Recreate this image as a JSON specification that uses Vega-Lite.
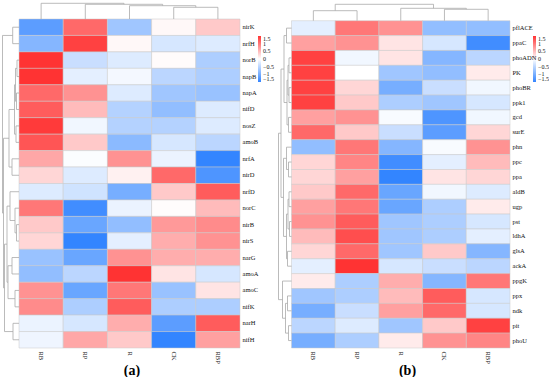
{
  "$schema": "https://vega.github.io/schema/vega-lite/v6.json",
  "padding": {"left": 2, "top": 2, "right": 0, "bottom": 0},
  "bounds": "flush",
  "spacing": 37,
  "config": {
    "view": {"stroke": null},
    "font": "Liberation Serif",
    "axis": {"ticks": false, "domain": false, "grid": false, "labelFont": "Liberation Serif", "labelFontSize": 6.5, "labelColor": "#111111", "title": null},
    "legend": {"labelFont": "Liberation Serif", "labelFontSize": 6, "labelColor": "#111111"}
  },
  "datasets": {
    "heatA": [
      {"gene": "nirK", "RB": -1.2, "RP": 1.1, "R": -0.7, "CK": 0.05, "RBP": 0.4},
      {"gene": "nrfH", "RB": -0.9, "RP": 1.4, "R": 0.05, "CK": -0.3, "RBP": -0.25},
      {"gene": "norB", "RB": 1.5, "RP": -0.4, "R": -0.25, "CK": 0.03, "RBP": -0.6},
      {"gene": "napB", "RB": 1.5, "RP": -0.2, "R": -0.08, "CK": -0.5, "RBP": -0.6},
      {"gene": "napA", "RB": 1.1, "RP": 0.8, "R": -0.25, "CK": -0.7, "RBP": -0.75},
      {"gene": "nifD", "RB": 1.2, "RP": 0.5, "R": -0.55, "CK": -0.8, "RBP": -0.25},
      {"gene": "nosZ", "RB": 1.45, "RP": -0.1, "R": -0.55, "CK": -0.55, "RBP": -0.25},
      {"gene": "amoB", "RB": 1.25, "RP": 0.4, "R": -0.85, "CK": -0.3, "RBP": -0.5},
      {"gene": "nrfA", "RB": 0.65, "RP": -0.03, "R": 0.8, "CK": -0.15, "RBP": -1.5},
      {"gene": "nirD", "RB": 0.3, "RP": -0.25, "R": 0.1, "CK": 1.1, "RBP": -1.3},
      {"gene": "nrfD", "RB": -0.25, "RP": -0.35, "R": -1.0, "CK": 0.4, "RBP": 1.2},
      {"gene": "norC", "RB": 1.0, "RP": -1.4, "R": -0.15, "CK": 0.02, "RBP": 0.5},
      {"gene": "nirB", "RB": 0.4, "RP": -1.1, "R": -0.8, "CK": 0.75, "RBP": 0.85},
      {"gene": "nirS", "RB": 0.3, "RP": -1.5, "R": -0.2, "CK": 0.6, "RBP": 0.8},
      {"gene": "narG", "RB": -0.75, "RP": -1.1, "R": 0.8, "CK": 0.6, "RBP": 0.6},
      {"gene": "amoA", "RB": -0.8, "RP": -0.5, "R": 1.5, "CK": 0.2, "RBP": -0.3},
      {"gene": "amoC", "RB": 0.8, "RP": -1.1, "R": 1.0, "CK": -0.75, "RBP": 0.2},
      {"gene": "nifK", "RB": 0.85, "RP": -0.6, "R": 1.2, "CK": -0.6, "RBP": -0.6},
      {"gene": "narH", "RB": -0.15, "RP": -0.3, "R": 0.6, "CK": -1.2, "RBP": 1.2},
      {"gene": "nifH", "RB": -0.12, "RP": 0.65, "R": 0.4, "CK": -1.5, "RBP": 0.7}
    ],
    "heatB": [
      {"gene": "pflACE", "RB": -0.2, "RP": 1.0, "R": 0.8, "CK": -0.8, "RBP": -0.8},
      {"gene": "ppaC", "RB": 0.7, "RP": 0.8, "R": 0.2, "CK": -0.3, "RBP": -1.4},
      {"gene": "phoADN", "RB": 1.4, "RP": -0.1, "R": 0.2, "CK": -0.9, "RBP": -0.5},
      {"gene": "PK", "RB": 1.4, "RP": 0.0, "R": -0.7, "CK": -0.8, "RBP": 0.15},
      {"gene": "phoBR", "RB": 1.4, "RP": 0.3, "R": -1.0, "CK": -0.4, "RBP": -0.1},
      {"gene": "ppk1", "RB": 1.4, "RP": 0.4, "R": -0.6, "CK": -0.7, "RBP": -0.3},
      {"gene": "gcd", "RB": 0.7, "RP": 0.8, "R": -0.05, "CK": -1.3, "RBP": -0.1},
      {"gene": "surE", "RB": 1.1, "RP": 0.4, "R": -0.4, "CK": -1.2, "RBP": 0.3},
      {"gene": "phn", "RB": -0.8, "RP": 1.0, "R": -0.9, "CK": -0.05, "RBP": 0.8},
      {"gene": "ppc", "RB": 0.3, "RP": 0.9, "R": -1.4, "CK": -0.2, "RBP": 0.5},
      {"gene": "ppa", "RB": 0.3, "RP": 0.7, "R": -1.5, "CK": 0.2, "RBP": 0.3},
      {"gene": "aldB", "RB": 0.4, "RP": 1.1, "R": -1.1, "CK": -0.1, "RBP": -0.25},
      {"gene": "ugp", "RB": 0.7, "RP": 1.0, "R": -1.1, "CK": -0.6, "RBP": 0.15},
      {"gene": "pst", "RB": 0.8, "RP": 1.2, "R": -0.7, "CK": -0.6, "RBP": -0.3},
      {"gene": "ldhA", "RB": 0.5, "RP": 1.3, "R": -0.7, "CK": -0.6, "RBP": -0.2},
      {"gene": "glsA", "RB": 0.3, "RP": 1.1, "R": -0.7, "CK": 0.4, "RBP": -0.9},
      {"gene": "ackA", "RB": -0.2, "RP": 1.5, "R": -0.3, "CK": -0.4, "RBP": -0.5},
      {"gene": "ppgK", "RB": 0.15, "RP": -0.6, "R": 0.6, "CK": -0.9, "RBP": 1.0},
      {"gene": "ppx", "RB": -0.7, "RP": -0.6, "R": 0.5, "CK": 1.2, "RBP": -0.3},
      {"gene": "ndk", "RB": -1.0, "RP": -0.4, "R": 0.7, "CK": 1.1, "RBP": -0.3},
      {"gene": "pit", "RB": -0.5, "RP": -0.25, "R": -0.7, "CK": 0.4, "RBP": 1.4},
      {"gene": "phoU", "RB": -1.0, "RP": -0.6, "R": 0.15, "CK": 0.8, "RBP": 0.9}
    ],
    "colA": [
      {"l": 3.5, "r": 4.5, "lh": 0, "rh": 0, "h": 11.7},
      {"l": 2.5, "r": 4.0, "lh": 0, "rh": 11.7, "h": 13.3},
      {"l": 1.5, "r": 3.25, "lh": 0, "rh": 13.3, "h": 14.7},
      {"l": 0.5, "r": 2.375, "lh": 0, "rh": 14.7, "h": 15.7}
    ],
    "colB": [
      {"l": 3.5, "r": 4.5, "lh": 0, "rh": 0, "h": 11.4},
      {"l": 2.5, "r": 4.0, "lh": 0, "rh": 11.4, "h": 12.4},
      {"l": 0.5, "r": 1.5, "lh": 0, "rh": 0, "h": 10},
      {"l": 1.0, "r": 3.25, "lh": 10, "rh": 12.4, "h": 16.4}
    ],
    "rowA": [
      {"l": 0.5, "r": 1.5, "lh": 0, "rh": 0, "h": 6.3},
      {"l": 2.5, "r": 3.5, "lh": 0, "rh": 0, "h": 2},
      {"l": 4.5, "r": 5.5, "lh": 0, "rh": 0, "h": 2.5},
      {"l": 3.0, "r": 5.0, "lh": 2, "rh": 2.5, "h": 3.5},
      {"l": 6.5, "r": 7.5, "lh": 0, "rh": 0, "h": 3},
      {"l": 4.0, "r": 7.0, "lh": 3.5, "rh": 3, "h": 4.5},
      {"l": 8.5, "r": 9.5, "lh": 0, "rh": 0, "h": 7},
      {"l": 5.5, "r": 9.0, "lh": 4.5, "rh": 7, "h": 10},
      {"l": 12.5, "r": 13.5, "lh": 0, "rh": 0, "h": 2.5},
      {"l": 11.5, "r": 13.0, "lh": 0, "rh": 2.5, "h": 4},
      {"l": 10.5, "r": 12.25, "lh": 0, "rh": 4, "h": 9},
      {"l": 14.5, "r": 15.5, "lh": 0, "rh": 0, "h": 7},
      {"l": 16.5, "r": 17.5, "lh": 0, "rh": 0, "h": 4},
      {"l": 15.0, "r": 17.0, "lh": 7, "rh": 4, "h": 11},
      {"l": 11.375, "r": 16.0, "lh": 9, "rh": 11, "h": 12},
      {"l": 18.5, "r": 19.5, "lh": 0, "rh": 0, "h": 6},
      {"l": 13.6875, "r": 19.0, "lh": 12, "rh": 6, "h": 14.5},
      {"l": 7.25, "r": 16.34375, "lh": 10, "rh": 14.5, "h": 15.5},
      {"l": 1.0, "r": 11.796875, "lh": 6.3, "rh": 15.5, "h": 16.5}
    ],
    "rowB": [
      {"l": 0.5, "r": 1.5, "lh": 0, "rh": 0, "h": 5},
      {"l": 2.5, "r": 3.5, "lh": 0, "rh": 0, "h": 2.5},
      {"l": 4.5, "r": 5.5, "lh": 0, "rh": 0, "h": 2.5},
      {"l": 3.0, "r": 5.0, "lh": 2.5, "rh": 2.5, "h": 3.5},
      {"l": 6.5, "r": 7.5, "lh": 0, "rh": 0, "h": 3},
      {"l": 4.0, "r": 7.0, "lh": 3.5, "rh": 3, "h": 4.5},
      {"l": 1.0, "r": 5.5, "lh": 5, "rh": 4.5, "h": 7.5},
      {"l": 9.5, "r": 10.5, "lh": 0, "rh": 0, "h": 3},
      {"l": 8.5, "r": 10.0, "lh": 0, "rh": 3, "h": 5},
      {"l": 11.5, "r": 12.5, "lh": 0, "rh": 0, "h": 2.5},
      {"l": 13.5, "r": 14.5, "lh": 0, "rh": 0, "h": 2},
      {"l": 12.0, "r": 14.0, "lh": 2.5, "rh": 2, "h": 3.5},
      {"l": 15.5, "r": 16.5, "lh": 0, "rh": 0, "h": 4},
      {"l": 13.0, "r": 16.0, "lh": 3.5, "rh": 4, "h": 5},
      {"l": 9.25, "r": 14.5, "lh": 5, "rh": 5, "h": 8},
      {"l": 3.25, "r": 11.875, "lh": 7.5, "rh": 8, "h": 10.5},
      {"l": 18.5, "r": 19.5, "lh": 0, "rh": 0, "h": 4},
      {"l": 20.5, "r": 21.5, "lh": 0, "rh": 0, "h": 3},
      {"l": 19.0, "r": 21.0, "lh": 4, "rh": 3, "h": 6},
      {"l": 17.5, "r": 20.0, "lh": 0, "rh": 6, "h": 9},
      {"l": 7.5625, "r": 18.75, "lh": 10.5, "rh": 9, "h": 13}
    ]
  },
  "resolve": {"scale": {"color": "independent"}, "legend": {"color": "independent"}},
  "hconcat": [
    {
      "width": 238,
      "height": 346,
      "title": {"text": "(a)", "orient": "bottom", "anchor": "middle", "font": "Liberation Serif", "fontSize": 14, "fontWeight": "bold", "offset": 1, "dx": 11, "color": "#000000"},
      "resolve": {"scale": {"x": "independent", "y": "independent"}},
      "layer": [
        {
          "data": {"name": "heatA"},
          "transform": [{"fold": ["RB", "RP", "R", "CK", "RBP"], "as": ["group", "v"]}],
          "mark": {"type": "rect", "stroke": "#c8c8c8", "strokeWidth": 0.5},
          "encoding": {
            "x": {"field": "group", "type": "nominal", "sort": ["RB", "RP", "R", "CK", "RBP"], "scale": {"paddingInner": 0, "paddingOuter": 0.1925, "align": 1}, "axis": {"orient": "bottom", "labelAngle": 90, "labelPadding": 3}},
            "y": {"field": "gene", "type": "nominal", "sort": null, "scale": {"paddingInner": 0, "paddingOuter": 0.5165, "align": 1}, "axis": {"orient": "right", "labelPadding": 2}},
            "color": {"field": "v", "type": "quantitative", "scale": {"type": "linear", "domain": [-1.5, 0, 1.5], "range": ["#3385ff", "#ffffff", "#ff3333"], "interpolate": "rgb", "nice": false, "zero": false, "clamp": true},
              "legend": {"title": null, "orient": "none", "legendX": 256, "legendY": 34, "direction": "vertical", "gradientLength": 46, "gradientThickness": 3, "gradientStrokeWidth": 0, "values": [-1.5, -1, -0.5, 0, 0.5, 1, 1.5], "format": ".1~f", "labelOverlap": false, "labelOffset": 2}}
          }
        },
        {
          "data": {"name": "colA"},
          "layer": [
            {"mark": {"type": "rule", "color": "#aaaaaa", "strokeWidth": 0.8},
             "encoding": {"x": {"field": "l", "type": "quantitative", "scale": {"domain": [-0.385, 5], "nice": false, "zero": false}, "axis": null},
                          "y": {"field": "lh", "type": "quantitative", "scale": {"domain": [-329, 17], "nice": false, "zero": false}, "axis": null},
                          "y2": {"field": "h"}}},
            {"mark": {"type": "rule", "color": "#aaaaaa", "strokeWidth": 0.8},
             "encoding": {"x": {"field": "r", "type": "quantitative", "scale": {"domain": [-0.385, 5], "nice": false, "zero": false}, "axis": null},
                          "y": {"field": "rh", "type": "quantitative", "scale": {"domain": [-329, 17], "nice": false, "zero": false}, "axis": null},
                          "y2": {"field": "h"}}},
            {"mark": {"type": "rule", "color": "#aaaaaa", "strokeWidth": 0.8},
             "encoding": {"x": {"field": "l", "type": "quantitative", "scale": {"domain": [-0.385, 5], "nice": false, "zero": false}, "axis": null},
                          "x2": {"field": "r"},
                          "y": {"field": "h", "type": "quantitative", "scale": {"domain": [-329, 17], "nice": false, "zero": false}, "axis": null}}}
          ]
        },
        {
          "data": {"name": "rowA"},
          "layer": [
            {"mark": {"type": "rule", "color": "#aaaaaa", "strokeWidth": 0.8},
             "encoding": {"y": {"field": "l", "type": "quantitative", "scale": {"domain": [-1.033, 20], "reverse": true, "nice": false, "zero": false}, "axis": null},
                          "x": {"field": "lh", "type": "quantitative", "scale": {"domain": [-221, 17], "reverse": true, "nice": false, "zero": false}, "axis": null},
                          "x2": {"field": "h"}}},
            {"mark": {"type": "rule", "color": "#aaaaaa", "strokeWidth": 0.8},
             "encoding": {"y": {"field": "r", "type": "quantitative", "scale": {"domain": [-1.033, 20], "reverse": true, "nice": false, "zero": false}, "axis": null},
                          "x": {"field": "rh", "type": "quantitative", "scale": {"domain": [-221, 17], "reverse": true, "nice": false, "zero": false}, "axis": null},
                          "x2": {"field": "h"}}},
            {"mark": {"type": "rule", "color": "#aaaaaa", "strokeWidth": 0.8},
             "encoding": {"y": {"field": "l", "type": "quantitative", "scale": {"domain": [-1.033, 20], "reverse": true, "nice": false, "zero": false}, "axis": null},
                          "y2": {"field": "r"},
                          "x": {"field": "h", "type": "quantitative", "scale": {"domain": [-221, 17], "reverse": true, "nice": false, "zero": false}, "axis": null}}}
          ]
        }
      ]
    },
    {
      "width": 233,
      "height": 346,
      "title": {"text": "(b)", "orient": "bottom", "anchor": "middle", "font": "Liberation Serif", "fontSize": 14, "fontWeight": "bold", "offset": 1, "dx": 14, "color": "#000000"},
      "resolve": {"scale": {"x": "independent", "y": "independent"}},
      "layer": [
        {
          "data": {"name": "heatB"},
          "transform": [{"fold": ["RB", "RP", "R", "CK", "RBP"], "as": ["group", "v"]}],
          "mark": {"type": "rect", "stroke": "#c8c8c8", "strokeWidth": 0.5},
          "encoding": {
            "x": {"field": "group", "type": "nominal", "sort": ["RB", "RP", "R", "CK", "RBP"], "scale": {"paddingInner": 0, "paddingOuter": 0.166, "align": 1}, "axis": {"orient": "bottom", "labelAngle": 90, "labelPadding": 3}},
            "y": {"field": "gene", "type": "nominal", "sort": null, "scale": {"paddingInner": 0, "paddingOuter": 0.6285, "align": 1}, "axis": {"orient": "right", "labelPadding": 2}},
            "color": {"field": "v", "type": "quantitative", "scale": {"type": "linear", "domain": [-1.5, 0, 1.5], "range": ["#3385ff", "#ffffff", "#ff3333"], "interpolate": "rgb", "nice": false, "zero": false, "clamp": true},
              "legend": {"title": null, "orient": "none", "legendX": 256, "legendY": 34, "direction": "vertical", "gradientLength": 46, "gradientThickness": 3, "gradientStrokeWidth": 0, "values": [-1.5, -1, -0.5, 0, 0.5, 1, 1.5], "format": ".1~f", "labelOverlap": false, "labelOffset": 2}}
          }
        },
        {
          "data": {"name": "colB"},
          "layer": [
            {"mark": {"type": "rule", "color": "#aaaaaa", "strokeWidth": 0.8},
             "encoding": {"x": {"field": "l", "type": "quantitative", "scale": {"domain": [-0.332, 5], "nice": false, "zero": false}, "axis": null},
                          "y": {"field": "lh", "type": "quantitative", "scale": {"domain": [-327.3, 18.7], "nice": false, "zero": false}, "axis": null},
                          "y2": {"field": "h"}}},
            {"mark": {"type": "rule", "color": "#aaaaaa", "strokeWidth": 0.8},
             "encoding": {"x": {"field": "r", "type": "quantitative", "scale": {"domain": [-0.332, 5], "nice": false, "zero": false}, "axis": null},
                          "y": {"field": "rh", "type": "quantitative", "scale": {"domain": [-327.3, 18.7], "nice": false, "zero": false}, "axis": null},
                          "y2": {"field": "h"}}},
            {"mark": {"type": "rule", "color": "#aaaaaa", "strokeWidth": 0.8},
             "encoding": {"x": {"field": "l", "type": "quantitative", "scale": {"domain": [-0.332, 5], "nice": false, "zero": false}, "axis": null},
                          "x2": {"field": "r"},
                          "y": {"field": "h", "type": "quantitative", "scale": {"domain": [-327.3, 18.7], "nice": false, "zero": false}, "axis": null}}}
          ]
        },
        {
          "data": {"name": "rowB"},
          "layer": [
            {"mark": {"type": "rule", "color": "#aaaaaa", "strokeWidth": 0.8},
             "encoding": {"y": {"field": "l", "type": "quantitative", "scale": {"domain": [-1.257, 22], "reverse": true, "nice": false, "zero": false}, "axis": null},
                          "x": {"field": "lh", "type": "quantitative", "scale": {"domain": [-218.5, 14.5], "reverse": true, "nice": false, "zero": false}, "axis": null},
                          "x2": {"field": "h"}}},
            {"mark": {"type": "rule", "color": "#aaaaaa", "strokeWidth": 0.8},
             "encoding": {"y": {"field": "r", "type": "quantitative", "scale": {"domain": [-1.257, 22], "reverse": true, "nice": false, "zero": false}, "axis": null},
                          "x": {"field": "rh", "type": "quantitative", "scale": {"domain": [-218.5, 14.5], "reverse": true, "nice": false, "zero": false}, "axis": null},
                          "x2": {"field": "h"}}},
            {"mark": {"type": "rule", "color": "#aaaaaa", "strokeWidth": 0.8},
             "encoding": {"y": {"field": "l", "type": "quantitative", "scale": {"domain": [-1.257, 22], "reverse": true, "nice": false, "zero": false}, "axis": null},
                          "y2": {"field": "r"},
                          "x": {"field": "h", "type": "quantitative", "scale": {"domain": [-218.5, 14.5], "reverse": true, "nice": false, "zero": false}, "axis": null}}}
          ]
        }
      ]
    }
  ]
}
